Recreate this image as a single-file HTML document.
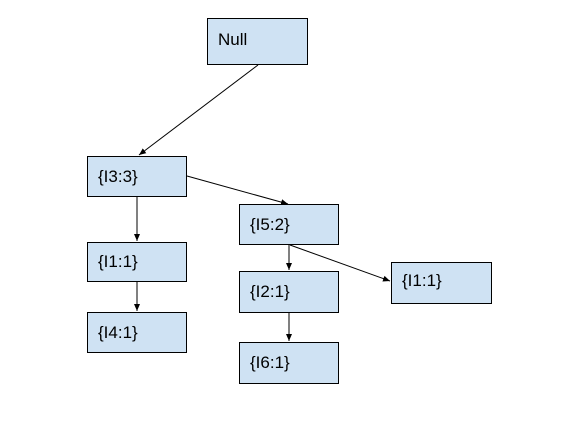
<!DOCTYPE html>
<html><head><style>
body{margin:0;background:#fff;width:576px;height:432px;position:relative;overflow:hidden;font-family:"Liberation Sans",sans-serif}
.b{position:absolute;background:#cfe2f3;border:1px solid #000;box-sizing:border-box;font-size:17px;color:#000;padding-left:10px;display:flex;align-items:center}
svg{position:absolute;left:0;top:0}
</style></head><body>
<div class="b" style="left:207px;top:18px;width:101px;height:47px;padding-bottom:4px">Null</div>
<div class="b" style="left:87px;top:156px;width:100px;height:41px">{I3:3}</div>
<div class="b" style="left:87px;top:242px;width:100px;height:40px">{I1:1}</div>
<div class="b" style="left:87px;top:312px;width:100px;height:41px">{I4:1}</div>
<div class="b" style="left:239px;top:204px;width:100px;height:41px">{I5:2}</div>
<div class="b" style="left:239px;top:271px;width:100px;height:42px">{I2:1}</div>
<div class="b" style="left:239px;top:342px;width:100px;height:42px">{I6:1}</div>
<div class="b" style="left:391px;top:262px;width:101px;height:42px;padding-bottom:4px">{I1:1}</div>
<svg width="576" height="432">
<defs><marker id="a" markerWidth="8" markerHeight="8" refX="7" refY="4" orient="auto" markerUnits="userSpaceOnUse"><path d="M0,1 L7,4 L0,7z" fill="#000"/></marker></defs>
<g stroke="#000" stroke-width="1" marker-end="url(#a)">
<line x1="258" y1="65" x2="139" y2="155"/>
<line x1="187" y1="176" x2="288" y2="204"/>
<line x1="137" y1="197" x2="137" y2="241"/>
<line x1="137" y1="282" x2="137" y2="311"/>
<line x1="289" y1="245" x2="289" y2="270"/>
<line x1="290" y1="245" x2="390" y2="281"/>
<line x1="289" y1="313" x2="289" y2="341"/>
</g></svg>
</body></html>
